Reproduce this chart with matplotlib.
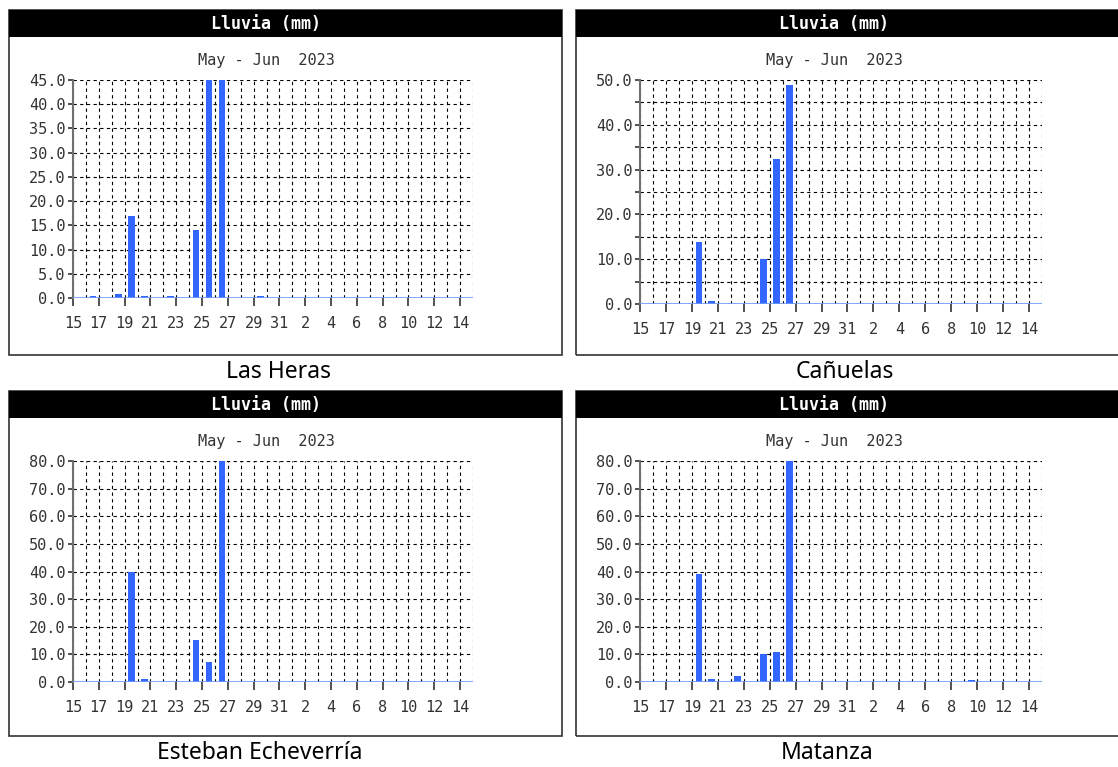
import matplotlib
matplotlib.use("Agg")
import matplotlib.pyplot as plt
from matplotlib.patches import Rectangle
from matplotlib.ticker import MultipleLocator, FormatStrFormatter

W, H = 1118, 767

# one entry per day, 15 May .. 14 Jun 2023
day_labels = [str(d) for d in range(15, 32)] + [str(d) for d in range(1, 15)]

las_heras = [0, 0.5, 0, 0.9, 17.0, 0.5, 0, 0.5, 0, 14.0, 52.0, 58.0, 0, 0, 0.5, 0, 0,
             0, 0, 0, 0, 0, 0, 0, 0, 0, 0, 0, 0, 0, 0]
canuelas = [0, 0, 0, 0, 13.9, 0.6, 0, 0, 0, 10.0, 32.4, 48.9, 0, 0, 0, 0, 0,
            0, 0, 0, 0, 0, 0, 0, 0, 0, 0, 0, 0, 0, 0]
esteban = [0, 0, 0, 0, 39.7, 1.0, 0, 0, 0, 15.3, 7.1, 85.0, 0, 0, 0, 0, 0,
           0, 0, 0, 0, 0, 0, 0, 0, 0, 0, 0, 0, 0, 0]
matanza = [0, 0, 0, 0, 39.0, 1.0, 0, 2.2, 0, 10.0, 10.7, 85.0, 0, 0, 0, 0, 0,
           0, 0, 0, 0, 0, 0, 0, 0, 0.9, 0, 0, 0, 0, 0]

names = ["Las Heras", "Cañuelas", "Esteban Echeverría", "Matanza"]
series = [las_heras, canuelas, esteban, matanza]
ymax = [45, 50, 80, 80]
ymajor = [5, 10, 10, 10]
yminor = [5, 5, 10, 10]

# pixel layout: panel box, plot area, label position
panels = [(9, 562, 10, 355), (576, 1140, 10, 355), (9, 562, 391, 736), (576, 1140, 391, 736)]
plots = [(73, 473, 80, 298), (640, 1042, 80, 304), (73, 473, 461, 682), (640, 1042, 461, 682)]
labels_xy = [(278, 372), (845, 372), (260, 753), (827, 753)]

BAR = "#3366ff"
MONO = "DejaVu Sans Mono"

fig = plt.figure(figsize=(W / 100, H / 100), dpi=100)


def fx(x):
    return x / W


def fy(y):
    return 1 - y / H


for i in range(4):
    x0, x1, y0, y1 = panels[i]
    fig.add_artist(Rectangle((fx(x0), fy(y1)), (x1 - x0) / W, (y1 - y0) / H,
                             transform=fig.transFigure, fill=False, ec="#333333", lw=1.2))
    fig.add_artist(Rectangle((fx(x0), fy(y0 + 27)), (x1 - x0) / W, 27 / H,
                             transform=fig.transFigure, fc="black", ec="black", lw=0))

    l, r, t, b = plots[i]
    cx = (l + r) / 2 - 7
    fig.text(fx(cx), fy(y0 + 14), "Lluvia (mm)", color="white", fontsize=12,
             fontweight="bold", family=MONO, ha="center", va="center")
    fig.text(fx(cx), fy(y0 + 50), "May - Jun  2023", color="#333333", fontsize=11,
             family=MONO, ha="center", va="center")
    lx, ly = labels_xy[i]
    fig.text(fx(lx), fy(ly), names[i], fontsize=16.5, family="Noto Sans",
             ha="center", va="center", color="black")

    ax = fig.add_axes([fx(l), fy(b), (r - l) / W, (b - t) / H])
    ax.set_facecolor("none")
    days = list(range(len(day_labels)))
    ax.bar([d + 0.28 for d in days], series[i], width=0.52, align="edge",
           color=BAR, zorder=3)
    ax.axhline(0, color="#6e9bff", lw=1.2, zorder=4)

    ax.set_xlim(0, len(day_labels))
    ax.set_ylim(0, ymax[i])
    ax.set_xticks(days[::2])
    ax.set_xticklabels(day_labels[::2])
    ax.xaxis.set_minor_locator(MultipleLocator(1))
    ax.yaxis.set_major_locator(MultipleLocator(ymajor[i]))
    ax.yaxis.set_minor_locator(MultipleLocator(yminor[i]))
    ax.yaxis.set_major_formatter(FormatStrFormatter("%.1f"))

    ax.grid(True, which="both", color="black", lw=0.8, linestyle=(0, (3, 3)), zorder=1)
    ax.set_axisbelow(True)
    for s in ["top", "right", "bottom"]:
        ax.spines[s].set_visible(False)
    ax.spines["left"].set_color("#707070")
    ax.spines["left"].set_linewidth(1.5)

    ax.tick_params(axis="x", which="major", length=6, width=1.2, color="#333333",
                   pad=7, labelsize=11, labelcolor="#333333")
    ax.tick_params(axis="x", which="minor", length=0)
    ax.tick_params(axis="y", which="both", length=3.5, width=1.2, color="#333333",
                   pad=2, labelsize=11, labelcolor="#333333")
    for lab in ax.get_xticklabels() + ax.get_yticklabels():
        lab.set_family(MONO)

fig.savefig("out.png", dpi=100)
